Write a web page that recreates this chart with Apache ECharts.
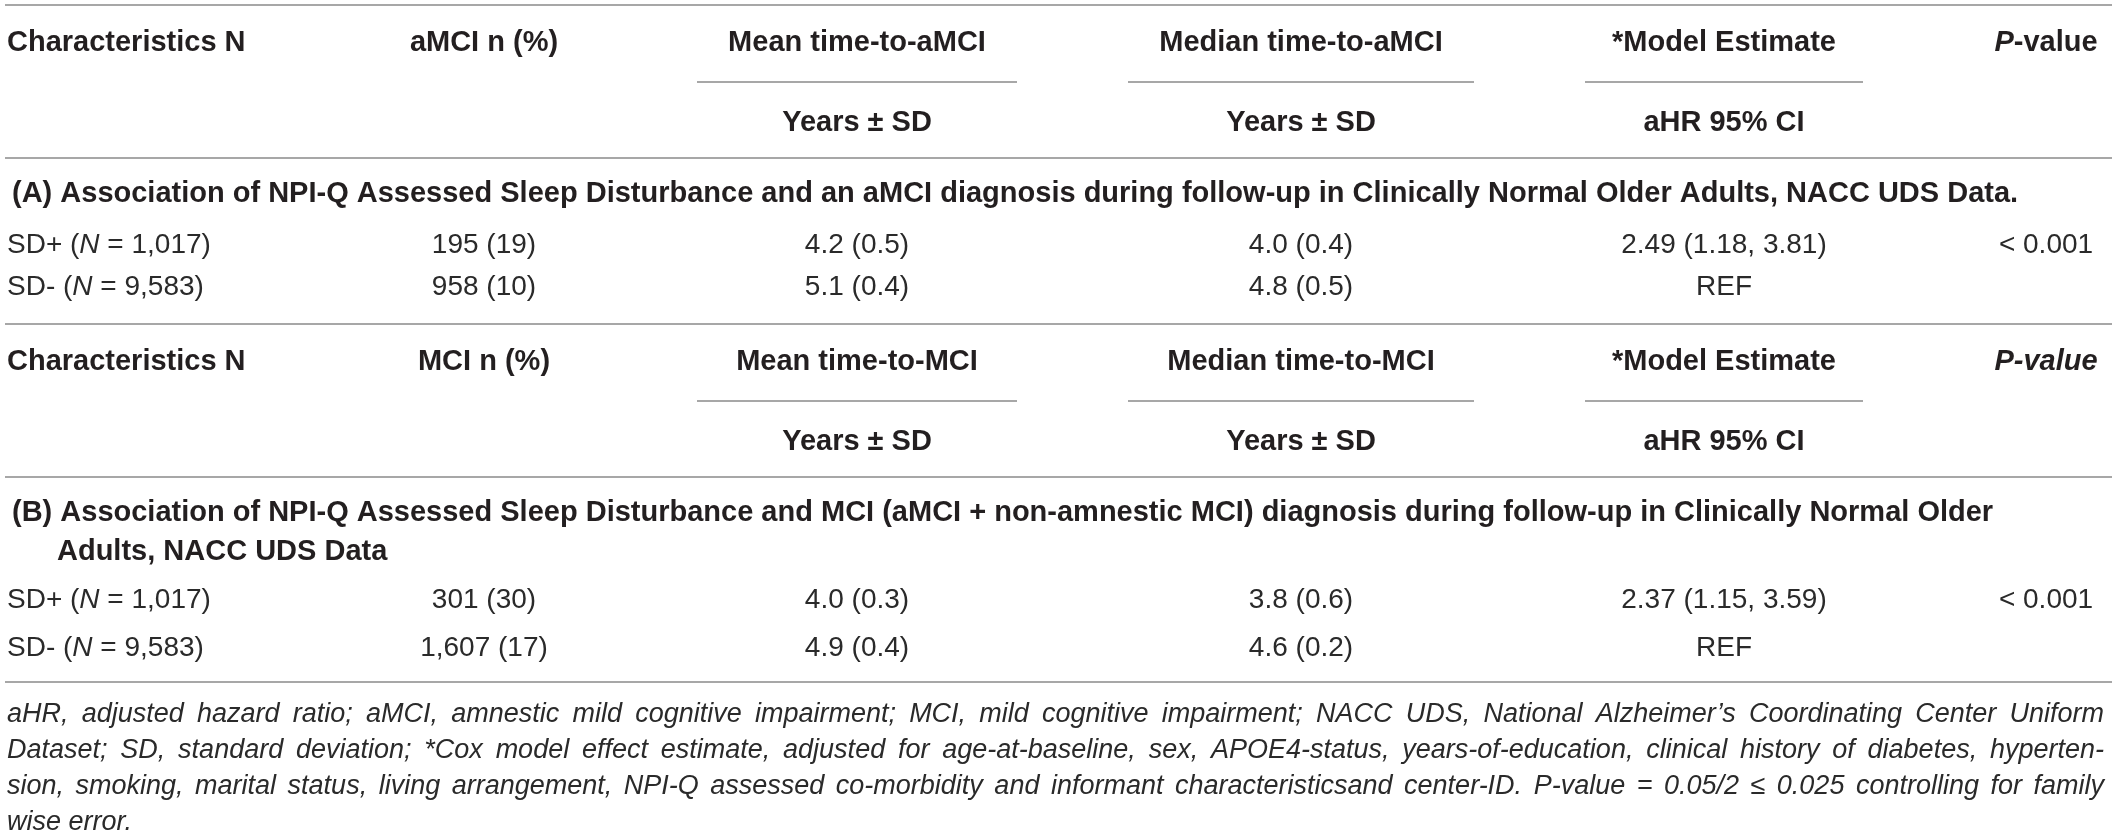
<!DOCTYPE html>
<html>
<head>
<meta charset="utf-8">
<script src="https://cdn.jsdelivr.net/npm/echarts@6/dist/echarts.min.js"></script>
<style>
  html, body { margin: 0; padding: 0; background: #fff; }
  #main { width: 2119px; height: 838px; }
</style>
</head>
<body>
<div id="main"></div>
<script>
// table content
const headA = ['Characteristics N', 'aMCI n (%)', 'Mean time-to-aMCI', 'Median time-to-aMCI', '*Model Estimate', 'P-value'];
const headB = ['Characteristics N', 'MCI n (%)', 'Mean time-to-MCI', 'Median time-to-MCI', '*Model Estimate', 'P-value'];
const subHead = ['', '', 'Years ± SD', 'Years ± SD', 'aHR 95% CI', ''];
const sectionA = ['(A) Association of NPI-Q Assessed Sleep Disturbance and an aMCI diagnosis during follow-up in Clinically Normal Older Adults, NACC UDS Data.'];
const sectionB = ['(B) Association of NPI-Q Assessed Sleep Disturbance and MCI (aMCI + non-amnestic MCI) diagnosis during follow-up in Clinically Normal Older',
                  'Adults, NACC UDS Data'];
const groups = ['SD+', 'SD-'];
const groupN = ['1,017', '9,583'];
const rowsA = [['195 (19)', '4.2 (0.5)', '4.0 (0.4)', '2.49 (1.18, 3.81)', '< 0.001'],
               ['958 (10)', '5.1 (0.4)', '4.8 (0.5)', 'REF', '']];
const rowsB = [['301 (30)', '4.0 (0.3)', '3.8 (0.6)', '2.37 (1.15, 3.59)', '< 0.001'],
               ['1,607 (17)', '4.9 (0.4)', '4.6 (0.2)', 'REF', '']];
const notes = [
  'aHR, adjusted hazard ratio; aMCI, amnestic mild cognitive impairment; MCI, mild cognitive impairment; NACC UDS, National Alzheimer\u2019s Coordinating Center Uniform',
  'Dataset; SD, standard deviation; *Cox model effect estimate, adjusted for age-at-baseline, sex, APOE4-status, years-of-education, clinical history of diabetes, hyperten-',
  'sion, smoking, marital status, living arrangement, NPI-Q assessed co-morbidity and informant characteristicsand center-ID. P-value = 0.05/2 \u2264 0.025 controlling for family',
  'wise error.'
];

// layout
const W = 2119, H = 838;
const FONT = '"Liberation Sans", Arial, Helvetica, sans-serif';
const colX = [7, 484, 857, 1301, 1724, 2046];
const subLines = [[697, 1017], [1128, 1474], [1585, 1863]];
const blockA = { top: 5, head: 43, sub: 82, subHead: 123, rule: 158, section: [194], rows: [245, 287] };
const blockB = { top: 324, head: 362, sub: 401, subHead: 442, rule: 477, section: [513, 552], rows: [600, 648] };
const endRule = 682;
const noteY = [714, 750, 786, 822];
const ruleL = 5, ruleR = 2112;

const TXT = '#231f20';
const DATA = '#2a2a2a';
const RULE = '#8a8a8a';

const cells = [];
const rules = [];

function boldStyle() { return { fontFamily: FONT, fontSize: 29, fontWeight: 'bold', fill: TXT }; }

function addBlock(b, head, sections, rows, pItalicAll) {
  rules.push([ruleL, ruleR, b.top]);
  head.forEach(function (h, i) {
    const c = { x: colX[i], y: b.head, align: i === 0 ? 'left' : 'center', style: boldStyle() };
    if (i === 5) {
      c.text = pItalicAll ? '{bi|' + h + '}' : '{bi|P}{b|' + h.slice(1) + '}';
      c.rich = { b: boldStyle(), bi: Object.assign(boldStyle(), { fontStyle: 'italic' }) };
    } else {
      c.text = h;
    }
    cells.push(c);
  });
  subLines.forEach(function (s) { rules.push([s[0], s[1], b.sub]); });
  subHead.forEach(function (h, i) {
    if (h) cells.push({ x: colX[i], y: b.subHead, align: 'center', text: h, style: boldStyle() });
  });
  rules.push([ruleL, ruleR, b.rule]);
  sections.forEach(function (s, i) {
    cells.push({ x: i === 0 ? 12 : 57, y: b.section[i], align: 'left', text: s, style: boldStyle() });
  });
  rows.forEach(function (r, k) {
    const base = { fontFamily: FONT, fontSize: 28, fill: DATA };
    cells.push({
      x: colX[0], y: b.rows[k], align: 'left', style: base,
      text: '{r|' + groups[k] + ' (}{i|N}{r| = ' + groupN[k] + ')}',
      rich: { r: base, i: Object.assign({}, base, { fontStyle: 'italic' }) }
    });
    r.forEach(function (v, j) {
      if (v) cells.push({ x: colX[j + 1], y: b.rows[k], align: 'center', text: v, style: base });
    });
  });
}

addBlock(blockA, headA, sectionA, rowsA, false);
addBlock(blockB, headB, sectionB, rowsB, true);
rules.push([ruleL, ruleR, endRule]);

// justified footnote: place each word
const noteFontSize = 27;
const ctx = document.createElement('canvas').getContext('2d');
ctx.font = 'italic ' + noteFontSize + 'px ' + FONT;
const noteL = 7, noteR = 2104;
notes.forEach(function (line, li) {
  const words = line.split(' ');
  const widths = words.map(function (w) { return ctx.measureText(w).width; });
  const sum = widths.reduce(function (a, b) { return a + b; }, 0);
  const last = li === notes.length - 1;
  const gap = last ? ctx.measureText(' ').width : (noteR - noteL - sum) / (words.length - 1);
  let x = noteL;
  words.forEach(function (w, k) {
    cells.push({ x: x, y: noteY[li], align: 'left', text: w,
      style: { fontFamily: FONT, fontSize: noteFontSize, fontStyle: 'italic', fill: DATA } });
    x += widths[k] + gap;
  });
});

const chart = echarts.init(document.getElementById('main'), null, { renderer: 'canvas' });
chart.setOption({
  animation: false,
  grid: { left: 0, right: 0, top: 0, bottom: 0 },
  xAxis: { type: 'value', min: 0, max: W, show: false },
  yAxis: { type: 'value', min: 0, max: H, inverse: true, show: false },
  series: [
    {
      type: 'custom',
      silent: true,
      clip: false,
      data: rules.map(function (r) { return [r[0], r[1], r[2]]; }),
      renderItem: function (params, api) {
        const a = api.coord([api.value(0), api.value(2)]);
        const b = api.coord([api.value(1), api.value(2)]);
        return {
          type: 'line',
          shape: { x1: a[0], y1: a[1], x2: b[0], y2: b[1] },
          style: { stroke: RULE, lineWidth: 1.6 }
        };
      }
    },
    {
      type: 'custom',
      silent: true,
      clip: false,
      data: cells.map(function (c, i) { return [c.x, c.y, i]; }),
      renderItem: function (params, api) {
        const c = cells[params.dataIndex];
        const p = api.coord([api.value(0), api.value(1)]);
        const st = Object.assign({}, c.style, {
          text: c.text, align: c.align, verticalAlign: 'middle'
        });
        if (c.rich) st.rich = c.rich;
        return { type: 'text', x: p[0], y: p[1], style: st };
      }
    }
  ]
});
</script>
</body>
</html>
